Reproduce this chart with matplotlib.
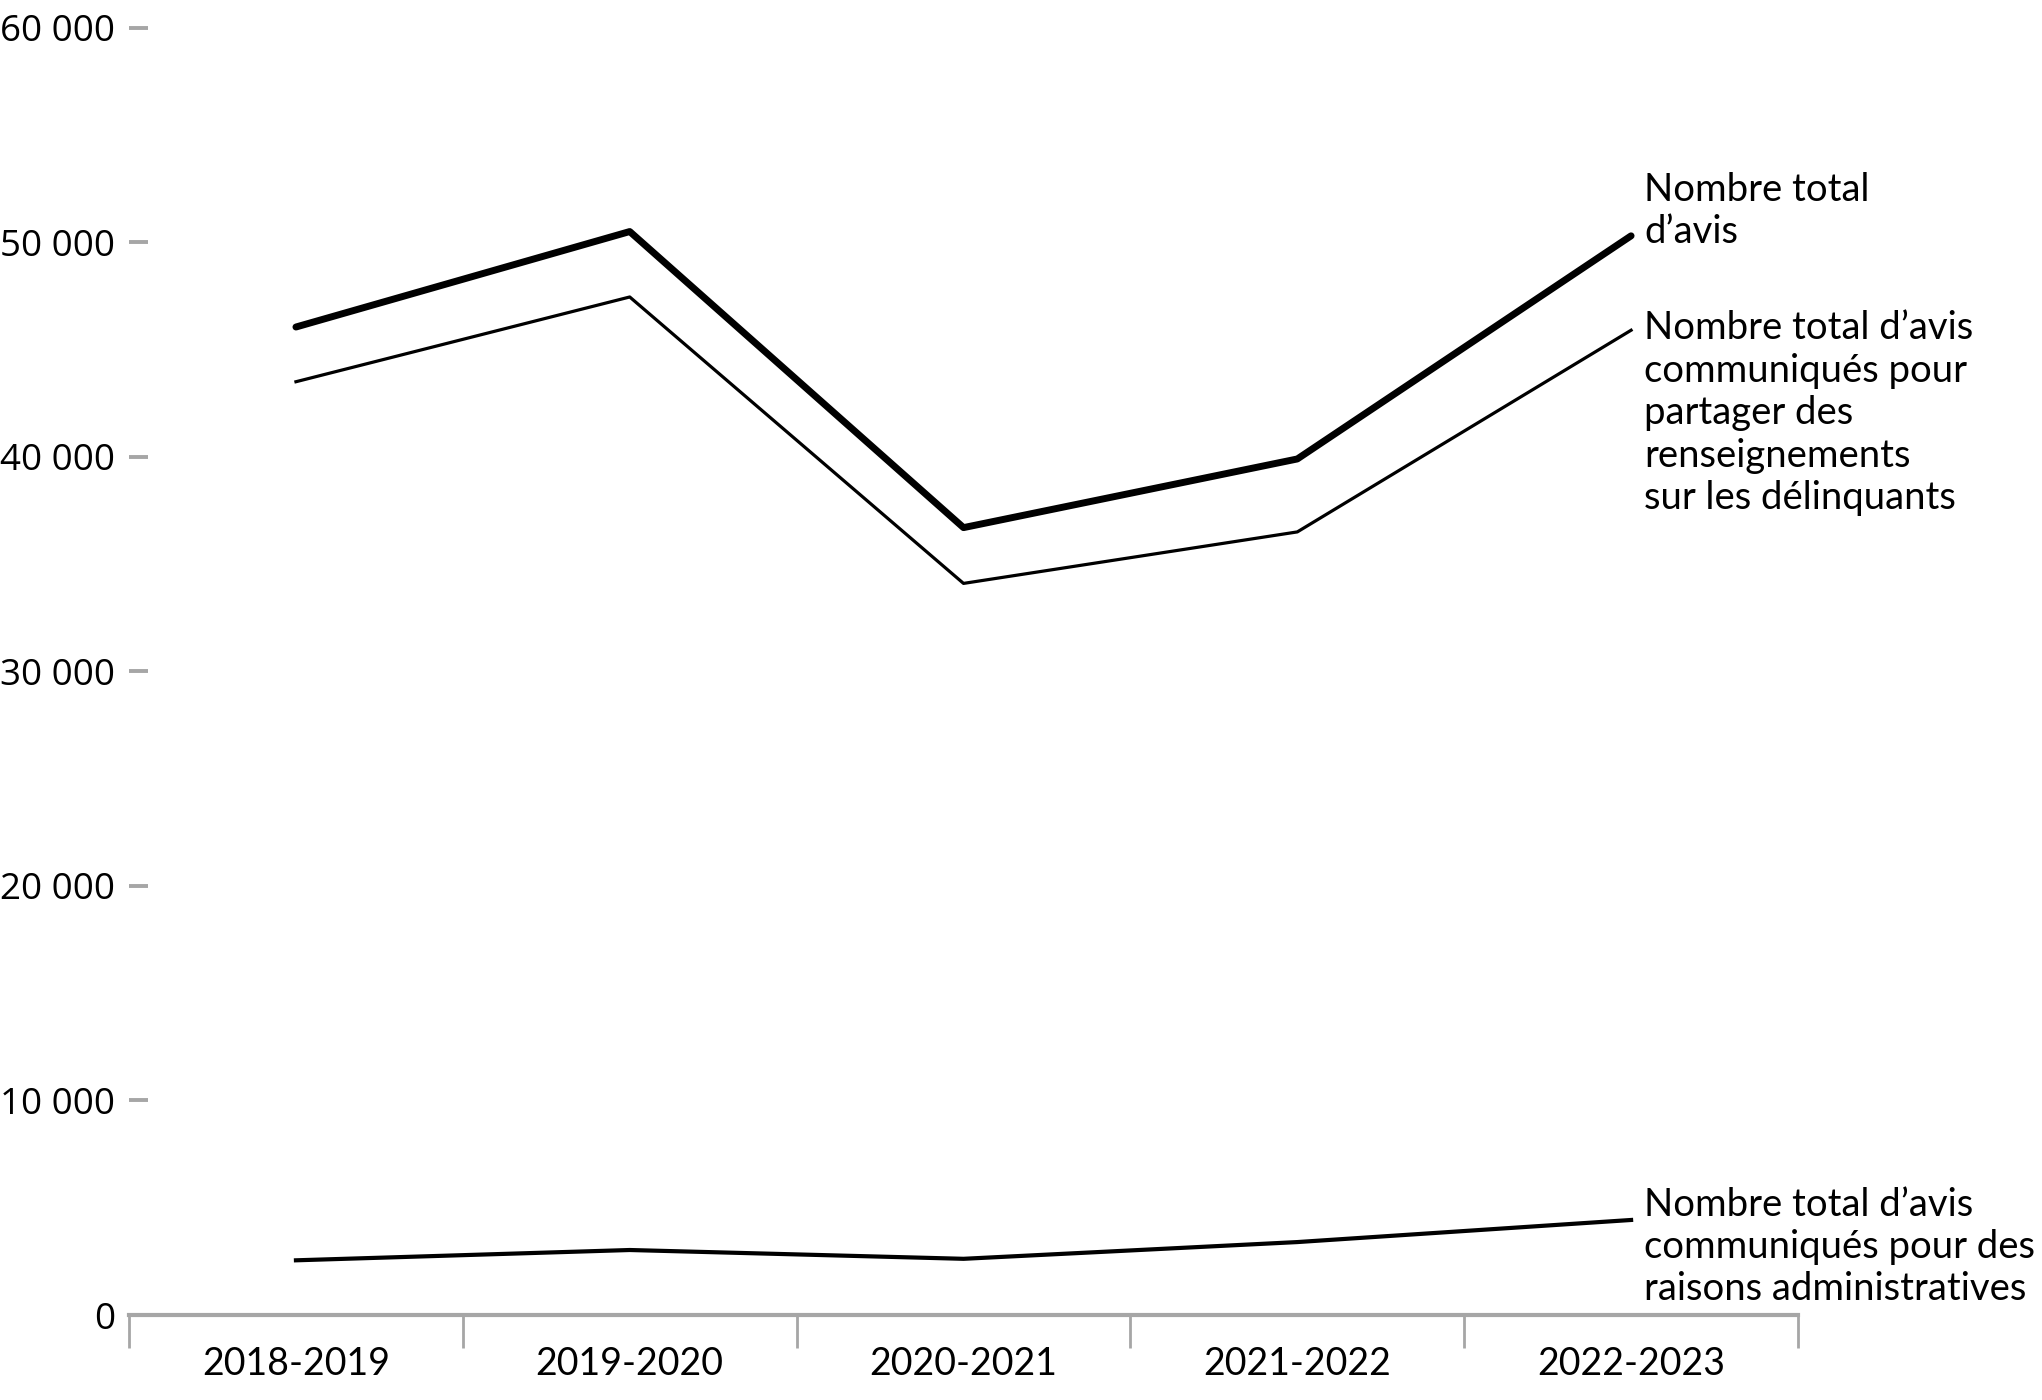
import matplotlib
matplotlib.use("Agg")
import matplotlib.pyplot as plt
from matplotlib.ticker import FixedLocator, FuncFormatter

# values
years = ["2018-2019", "2019-2020", "2020-2021", "2021-2022", "2022-2023"]
total = [46050, 50500, 36700, 39900, 50300]
partage = [43500, 47450, 34100, 36500, 45900]
admin = [2550, 3030, 2620, 3400, 4430]

label_total = "Nombre total\nd\u2019avis"
label_partage = ("Nombre total d\u2019avis\ncommuniqu\u00e9s pour\npartager des\n"
                 "renseignements\nsur les d\u00e9linquants")
label_admin = ("Nombre total d\u2019avis\ncommuniqu\u00e9s pour des\n"
               "raisons administratives")

narrow = ["Lato", "DejaVu Sans"]
grey = "#a6a6a6"


def main():
    fig = plt.figure(figsize=(20.42, 14.0), dpi=100)
    ax = fig.add_axes([0.0632, 0.0607, 0.8173, 0.9195])
    x = list(range(len(years)))

    ax.plot(x, total, color="black", lw=5, solid_capstyle="round")
    ax.plot(x, partage, color="black", lw=2.3)
    ax.plot(x, admin, color="black", lw=3)

    ax.set_xlim(-0.5, len(years) - 0.5)
    ax.set_ylim(0, 60000)

    for s in ["top", "right", "left"]:
        ax.spines[s].set_visible(False)
    ax.spines["bottom"].set_color(grey)
    ax.spines["bottom"].set_linewidth(3)

    # y axis
    ax.set_yticks(range(0, 60001, 10000))
    ax.yaxis.set_major_formatter(FuncFormatter(lambda v, p: f"{int(v):,}".replace(",", " ")))
    ax.tick_params(axis="y", direction="in", length=14, width=2.8, color=grey, pad=10)
    for t in ax.get_yticklabels():
        t.set_fontfamily("Open Sans")
        t.set_fontsize(26.5)

    # x axis: boundary ticks, labels in the middle
    ax.xaxis.set_major_locator(FixedLocator([i - 0.5 for i in range(len(years) + 1)]))
    ax.xaxis.set_major_formatter(FuncFormatter(lambda v, p: ""))
    ax.xaxis.set_minor_locator(FixedLocator(x))
    ax.set_xticklabels(years, minor=True)
    ax.tick_params(axis="x", which="major", direction="out", length=24, width=2, color=grey)
    ax.tick_params(axis="x", which="minor", length=0, pad=22)
    for t in ax.get_xticklabels(minor=True):
        t.set_fontfamily(narrow)
        t.set_fontsize(27)

    # end-of-line labels
    last = len(years) - 1
    kw = dict(textcoords="offset pixels", ha="left", va="center",
              fontsize=27.5, family=narrow, linespacing=1.22)
    ax.annotate(label_total, (last, total[last]), xytext=(13, 25), **kw)
    ax.annotate(label_partage, (last, partage[last]), xytext=(13, -83), **kw)
    ax.annotate(label_admin, (last, admin[last]), xytext=(13, -27), **kw)

    fig.savefig("out.png", dpi=100)


if __name__ == "__main__":
    main()
